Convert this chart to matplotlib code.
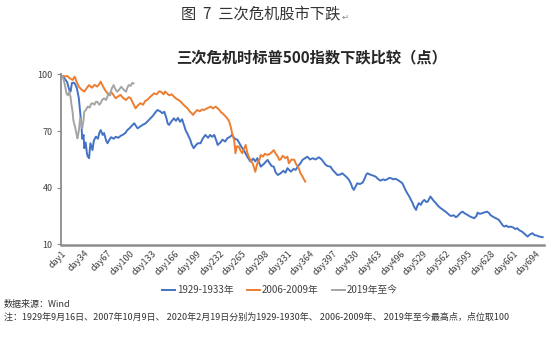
import matplotlib.pyplot as plt

plt.rcParams['font.family'] = ['Noto Sans CJK SC', 'DejaVu Sans']

# 1929-1933 (day, index value)
blue_day = [1, 5, 9, 12, 14, 16, 19, 21, 23, 26, 28, 30, 31, 33, 34, 36, 38, 39, 41, 43,
            46, 48, 51, 54, 56, 58, 61, 63, 66, 68, 70, 73, 77, 80, 84, 87, 90, 94, 97, 100,
            104, 107, 110, 112, 116, 120, 123, 126, 130, 134, 138, 141, 145, 148, 151, 154, 156, 158, 161, 165,
            168, 171, 174, 177, 180, 182, 185, 189, 191, 194, 197, 200, 204, 207, 211, 215, 218, 221, 224, 227,
            229, 233, 236, 240, 243, 247, 250, 254, 258, 261, 264, 267, 270, 273, 277, 281, 284, 287, 290, 292,
            296, 300, 302, 305, 308, 311, 314, 317, 321, 325, 328, 331, 336, 340, 343, 346, 350, 353, 356, 360,
            364, 368, 372, 377, 381, 384, 387, 390, 394, 397, 401, 404, 408, 411, 415, 418, 421, 424, 426, 428,
            431, 433, 437, 441, 444, 446, 448, 452, 456, 460, 464, 467, 471, 474, 477, 480, 482, 486, 489, 492,
            495, 499, 502, 504, 506, 509, 511, 514, 516, 519, 521, 523, 526, 528, 531, 534, 536, 538, 540, 543,
            545, 548, 551, 555, 558, 562, 565, 568, 570, 574, 577, 579, 582, 585, 587, 590, 594, 597, 600, 604,
            607, 609, 612, 616, 619, 623, 626, 628, 631, 635, 638, 640, 643, 646, 648, 651, 654, 657, 661, 664,
            667, 670, 674, 677, 680, 682, 685, 689, 692, 696, 699, 702, 704]
blue_val = [100, 98, 96, 92, 91, 95.5, 95.7, 94.6, 93, 87.6, 80, 72.6, 66, 68, 61, 64, 58, 56.7, 55.7, 63.6,
            60, 65, 67.1, 66, 69, 70.6, 68, 69, 65, 63.6, 65, 66.8, 66, 67, 66.5, 67.5, 68, 69, 70.6, 71.5,
            73, 74.2, 72.5, 71.5, 72.5, 73.5, 74, 75, 76.5, 78, 80, 81.2, 80.5, 79.5, 80.3, 77, 74, 73.3, 75, 76.8,
            75.5, 77, 75, 76.3, 73, 70.6, 68.5, 65.4, 63, 61, 62.5, 63.6, 63.6, 66, 68, 66.5, 68, 67, 68, 65,
            62.7, 64, 65.5, 64.5, 66.2, 67, 68, 66, 65.4, 63.5, 61.5, 60, 58, 56, 53.9, 55.5, 54, 55.7, 53, 51.2,
            52.5, 54, 54.8, 53, 51.5, 51.2, 48, 46.8, 47.7, 49, 48, 50.4, 48.6, 50, 49.5, 51.2, 53, 54.8, 55.5, 56.5,
            55, 55.7, 55, 56.2, 55, 53.5, 52.1, 51.5, 51.2, 49.5, 48, 46.8, 47, 47.7, 46.5, 45.5, 44.2, 42, 40, 38.9,
            41, 42.4, 42, 42.8, 45, 47, 47.7, 47, 46.5, 45.9, 44.5, 43.8, 44.5, 44, 44.6, 45.3, 45.1, 44.5, 44.8, 44.2,
            43.5, 42.4, 40, 38.5, 37.2, 35.5, 34, 31.9, 30, 28.3, 30.5, 31.9, 31, 32.5, 33.6, 32.5, 32.7, 34, 35.4, 34,
            33, 31.9, 30.5, 29.2, 28.5, 27.4, 26.5, 25.5, 25.1, 25.5, 24.5, 24.8, 26, 27, 27.4, 26.5, 25.7, 25, 24.5, 23.9,
            25, 26.9, 26.2, 26.6, 27, 27.4, 26.5, 25.5, 24.8, 24, 23.5, 23, 21.5, 20, 19.5, 20, 19.2, 19.5, 19, 18.2,
            18.6, 17.5, 16.8, 15.8, 14.8, 14.2, 15.2, 16, 15, 14.7, 14.2, 14, 13.9]

# 2006-2009
orange_day = [1, 5, 9, 13, 17, 20, 23, 26, 30, 34, 37, 41, 45, 49, 53, 56, 58, 61, 64, 68,
              70, 73, 77, 80, 84, 87, 91, 95, 99, 102, 105, 109, 112, 116, 120, 123, 126, 130, 133, 136,
              140, 143, 146, 150, 152, 155, 158, 162, 165, 169, 172, 175, 179, 182, 185, 188, 191, 193, 196, 199,
              203, 206, 209, 213, 216, 219, 222, 226, 229, 232, 234, 236, 240, 243, 246, 248, 250, 253, 255, 257,
              260, 262, 265, 267, 270, 272, 275, 277, 280, 282, 284, 287, 290, 292, 295, 298, 302, 305, 307, 309,
              311, 314, 317, 319, 321, 324, 328, 331, 333, 337, 341, 343, 346, 348, 350, 353, 355, 357]
orange_val = [100, 99, 99.2, 98, 97.1, 98.9, 96, 93.6, 92, 90.9, 92.5, 94.4, 93, 94.5, 93.6, 95, 96.2, 94, 92, 90,
              89, 90.9, 89, 87.4, 88.5, 89.2, 87.5, 86.5, 88, 87.4, 85, 82.1, 83.5, 84.8, 84, 86, 86.5, 88, 89, 90,
              89.5, 91, 90.9, 89.5, 91, 90, 89, 89.5, 88.3, 87, 86.5, 85.6, 84, 83, 82.1, 80.5, 79.5, 78.6, 80, 81.2,
              80.5, 81.5, 81.2, 82, 82.5, 83, 82, 83, 82.1, 81, 80, 79.5, 78, 76.8, 75, 72.4, 69, 65.4, 58.3, 62,
              61.8, 60, 58.3, 60.5, 62.7, 59, 56, 54.8, 53, 51, 48.5, 53, 55, 57.4, 56.5, 58, 57.4, 58, 58.5, 59.2,
              60, 58, 56.5, 54.8, 55, 57, 55.7, 56.5, 53, 55, 54.8, 53, 51.2, 50, 47.7, 46, 44.5, 43.3]

# 2019 to now
gray_day = [1, 3, 4, 6, 8, 10, 12, 14, 15, 17, 18, 20, 21, 23, 24, 26, 28, 30, 31, 33,
            34, 36, 39, 42, 44, 46, 49, 51, 53, 56, 58, 60, 63, 66, 68, 70, 72, 74, 77, 79,
            82, 85, 88, 90, 93, 95, 97, 99, 102, 104, 106]
gray_val = [100, 98, 97.1, 94, 90, 89, 90.9, 88, 84.8, 80, 75.9, 73, 71.5, 68, 66.2, 70, 76.8, 74, 71.5, 76,
            80.3, 81, 83, 82.5, 84.5, 84.8, 84, 85.5, 85.6, 84, 84.8, 86.5, 87.4, 86.5, 88.5, 90, 89, 92.5, 94.4, 92.5,
            90.9, 92, 93.5, 92.7, 91.5, 90.9, 93, 94.4, 94, 95.5, 95.3]

tick_days = list(range(1, 695, 33))
tick_labels = ['day%d' % d for d in tick_days]
y_ticks = [10, 40, 70, 100]
series_names = ['1929-1933年', '2006-2009年', '2019年至今']

fig = plt.figure(figsize=(5.5, 3.38), dpi=100)
ax = fig.add_axes([61 / 550, 1 - 244.5 / 338, 483 / 550, (244.5 - 74.5) / 338])

l1, = ax.plot(blue_day, blue_val, color='#4472C4', lw=1.4)
l2, = ax.plot(orange_day, orange_val, color='#ED7D31', lw=1.4)
l3, = ax.plot(gray_day, gray_val, color='#A5A5A5', lw=1.4)

ax.set_xlim(0, 706)
ax.set_ylim(10, 100)
ax.set_yticks(y_ticks)
ax.set_xticks(tick_days)
ax.set_xticklabels(tick_labels, rotation=45, ha='right', va='top', rotation_mode='anchor')
ax.tick_params(axis='x', length=0, pad=3, labelsize=6.5, colors='#404040')
ax.tick_params(axis='y', length=3, width=0.8, pad=3, labelsize=6.5, colors='#404040', color='#888888')
for s in ['top', 'right']:
    ax.spines[s].set_visible(False)
ax.spines['left'].set_color('#8C8C8C')
ax.spines['left'].set_linewidth(1.3)
ax.spines['bottom'].set_color('#8C8C8C')
ax.spines['bottom'].set_linewidth(1.8)

fig.text(181 / 550, 1 - 14 / 338, '图  7  三次危机股市下跌', fontsize=11, color='#333333',
         ha='left', va='center')
fig.text(342 / 550, 1 - 17 / 338, '↵', fontsize=6, color='#888888', ha='left', va='center',
         family=['DejaVu Sans'])
fig.text(312 / 550, 1 - 57 / 338, '三次危机时标普500指数下跌比较（点）', fontsize=11,
         fontweight='bold', color='#262626', ha='center', va='center')

fig.legend([l1, l2, l3], series_names, loc='center', bbox_to_anchor=(280 / 550, 1 - 290 / 338),
           ncol=3, frameon=False, fontsize=7, handlelength=1.3, handletextpad=0.2,
           columnspacing=1.4, labelcolor='#404040')

fig.text(4 / 550, 1 - 304 / 338, '数据来源：Wind', fontsize=6.5, color='#333333', va='center')
fig.text(4 / 550, 1 - 317 / 338,
         '注：1929年9月16日、2007年10月9日、 2020年2月19日分别为1929-1930年、 2006-2009年、 2019年至今最高点，点位取100',
         fontsize=6.5, color='#333333', va='center')

fig.savefig('out.png', dpi=100)
